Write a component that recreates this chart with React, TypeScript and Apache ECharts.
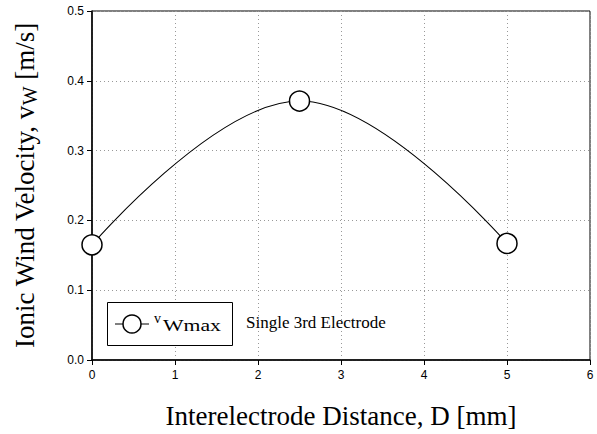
import React, { useEffect, useRef } from "react";
import * as echarts from "echarts";

const xValues = [0, 2.5, 5];
const vWmax = [0.165, 0.371, 0.167];
const xTicks = [0, 1, 2, 3, 4, 5, 6];
const yTicks = [0.0, 0.1, 0.2, 0.3, 0.4, 0.5];
const legendLabel = "vWmax";
const legendNote = "Single 3rd Electrode";

export default function App() {
  const ref = useRef<HTMLDivElement>(null);
  useEffect(() => {
    if (!ref.current) return;
    const chart = echarts.init(ref.current, null, { renderer: "svg" });
    const serif = "'Liberation Serif', 'Times New Roman', serif";
    const sans = "'Liberation Sans', Arial, sans-serif";
    chart.setOption({
      animation: false,
      backgroundColor: "#ffffff",
      grid: {
        left: 92,
        right: 7,
        top: 11,
        bottom: 72,
        show: true,
        borderColor: "#000",
        borderWidth: 1,
        containLabel: false,
      },
      legend: { show: false },
      xAxis: {
        type: "value",
        min: 0,
        max: 6,
        interval: 1,
        name: "Interelectrode Distance, D [mm]",
        nameLocation: "middle",
        nameGap: 42,
        nameTextStyle: { fontFamily: serif, fontSize: 27, color: "#000" },
        axisLine: { show: true, lineStyle: { color: "#000", width: 1.5 } },
        axisTick: { show: true, inside: false, length: 5, lineStyle: { color: "#000" } },
        axisLabel: {
          fontFamily: sans,
          fontSize: 12,
          color: "#000",
          margin: 9,
          formatter: (v: number) => (xTicks.includes(v) ? String(v) : ""),
        },
        splitLine: { show: true, lineStyle: { color: "#999", type: [1, 3], width: 1 } },
      },
      yAxis: {
        type: "value",
        min: 0,
        max: 0.5,
        interval: 0.1,
        name: "{t|Ionic Wind Velocity, v}{s|W}{t| [m/s]}",
        nameLocation: "middle",
        nameGap: 52,
        nameRotate: 90,
        nameTextStyle: {
          fontFamily: serif,
          fontSize: 27,
          color: "#000",
          rich: {
            t: { fontFamily: serif, fontSize: 27, color: "#000" },
            s: { fontFamily: serif, fontSize: 20, color: "#000", padding: [10, 0, 0, 0] },
          },
        },
        axisLine: { show: true, lineStyle: { color: "#000", width: 1.5 } },
        axisTick: { show: true, inside: false, length: 5, lineStyle: { color: "#000" } },
        axisLabel: {
          fontFamily: sans,
          fontSize: 12,
          color: "#000",
          margin: 8,
          formatter: (v: number) => {
            const m = yTicks.find((t) => Math.abs(t - v) < 1e-9);
            return m === undefined ? "" : m.toFixed(1);
          },
        },
        splitLine: { show: true, lineStyle: { color: "#999", type: [1, 3], width: 1 } },
      },
      graphic: [
        {
          type: "rect",
          shape: { x: 107.5, y: 302.5, width: 125, height: 43 },
          style: { fill: "#fff", stroke: "#000", lineWidth: 1 },
          z: 100,
        },
        {
          type: "line",
          shape: { x1: 115, y1: 324, x2: 149, y2: 324 },
          style: { stroke: "#000", lineWidth: 1 },
          z: 101,
        },
        {
          type: "circle",
          shape: { cx: 132, cy: 324, r: 9 },
          style: { fill: "#fff", stroke: "#000", lineWidth: 1.5 },
          z: 102,
        },
        {
          type: "text",
          x: 154,
          y: 311,
          style: { text: "v", fontFamily: serif, fontSize: 14, fill: "#000" },
          z: 102,
        },
        {
          type: "text",
          x: 163,
          y: 317,
          scaleX: 1.28,
          style: { text: "Wmax", fontFamily: serif, fontSize: 17, fill: "#000" },
          z: 102,
        },
        {
          type: "text",
          x: 246,
          y: 314,
          style: { text: legendNote, fontFamily: serif, fontSize: 17, fill: "#000" },
          z: 102,
        },
      ],
      series: [
        {
          name: legendLabel,
          type: "line",
          data: xValues.map((x, i) => [x, vWmax[i]]),
          smooth: 0.4,
          symbol: "circle",
          symbolSize: 20,
          lineStyle: { color: "#000", width: 1.1 },
          itemStyle: { color: "#fff", borderColor: "#000", borderWidth: 1.5 },
        },
      ],
    });
    return () => chart.dispose();
  }, []);
  return (
    <div
      ref={ref}
      style={{ position: "absolute", left: 0, top: 0, width: 597, height: 434 }}
    />
  );
}
